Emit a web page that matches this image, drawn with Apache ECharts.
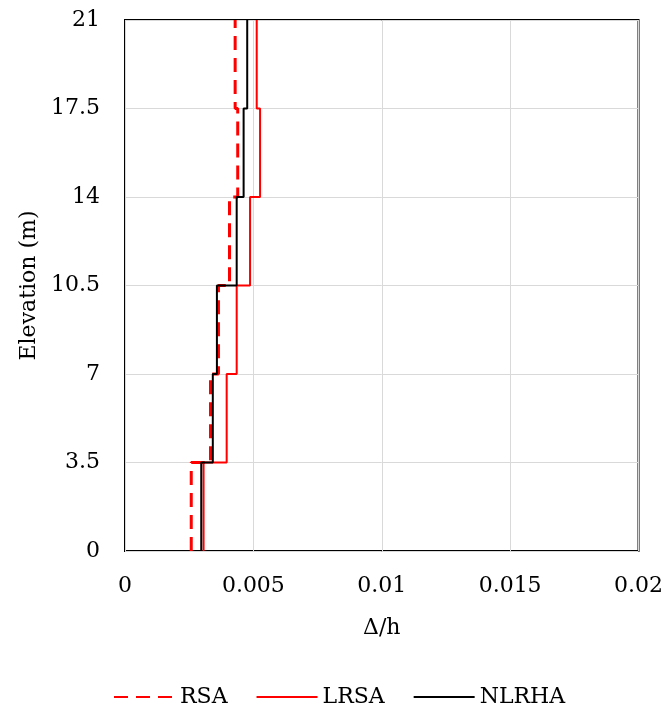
<!DOCTYPE html>
<html><head><meta charset="utf-8">
<script src="https://cdn.jsdelivr.net/npm/echarts@6/dist/echarts.min.js"></script>
<style>html,body{margin:0;padding:0;background:#fff}#c{width:666px;height:715px}</style>
</head><body><div id="c"></div>
<script>
// Story boundary elevations (m)
const levels = [0, 3.5, 7, 10.5, 14, 17.5, 21];
// Drift ratio per story (story 1..6)
const rsa   = [0.00258, 0.00333, 0.00364, 0.00407, 0.00439, 0.00429];
const lrsa  = [0.00306, 0.00396, 0.00435, 0.00487, 0.00526, 0.00513];
const nlrha = [0.00297, 0.00342, 0.00358, 0.00435, 0.00462, 0.00476];
const xTicks = [0, 0.005, 0.01, 0.015, 0.02];
const yTicks = [0, 3.5, 7, 10.5, 14, 17.5, 21];

function steps(vals) {
  const pts = [];
  vals.forEach((v, i) => { pts.push([v, levels[i]]); pts.push([v, levels[i + 1]]); });
  return pts;
}
const FONT = 'DejaVu Serif';
const FS = 22;
const chart = echarts.init(document.getElementById('c'));
chart.setOption({
  animation: false,
  textStyle: { fontFamily: FONT },
  grid: { left: 125, right: 25, top: 20, bottom: 164, show: true, borderColor: '#000', borderWidth: 2, backgroundColor: 'transparent' },
  xAxis: {
    type: 'value', min: 0, max: 0.02, interval: 0.005,
    name: 'Δ/h', nameLocation: 'middle', nameGap: 66,
    nameTextStyle: { fontFamily: FONT, fontSize: FS, color: '#000' },
    axisLine: { show: false }, axisTick: { show: false },
    axisLabel: { fontFamily: FONT, fontSize: FS, color: '#000', margin: 24,
      formatter: v => { const t = xTicks.find(x => Math.abs(x - v) < 1e-9); return t === undefined ? '' : String(t); } },
    splitLine: { show: true, lineStyle: { color: '#d9d9d9', width: 1 } }
  },
  yAxis: {
    type: 'value', min: 0, max: 21, interval: 3.5,
    name: 'Elevation (m)', nameLocation: 'middle', nameGap: 83, nameRotate: 90,
    nameTextStyle: { fontFamily: FONT, fontSize: FS, color: '#000' },
    axisLine: { show: false }, axisTick: { show: false },
    axisLabel: { fontFamily: FONT, fontSize: FS, color: '#000', margin: 25,
      formatter: v => { const t = yTicks.find(x => Math.abs(x - v) < 1e-9); return t === undefined ? '' : String(t); } },
    splitLine: { show: true, lineStyle: { color: '#d9d9d9', width: 1 } }
  },
  legend: {
    top: 686, left: 113, padding: 0, itemWidth: 61, itemHeight: 10, itemGap: 28,
    itemStyle: { opacity: 0 },
    textStyle: { fontFamily: FONT, fontSize: FS, color: '#000' },
    data: ['RSA', 'LRSA', 'NLRHA']
  },
  series: [
    { name: 'RSA', type: 'line', data: steps(rsa), symbol: 'none', showSymbol: false,
      lineStyle: { color: '#ff0000', width: 3, type: [14, 8] }, itemStyle: { color: '#ff0000' }, z: 3 },
    { name: 'LRSA', type: 'line', data: steps(lrsa), symbol: 'none', showSymbol: false,
      lineStyle: { color: '#ff0000', width: 2 }, itemStyle: { color: '#ff0000' }, z: 2 },
    { name: 'NLRHA', type: 'line', data: steps(nlrha), symbol: 'none', showSymbol: false,
      lineStyle: { color: '#000', width: 2 }, itemStyle: { color: '#000' }, z: 4 }
  ]
});
</script></body></html>
